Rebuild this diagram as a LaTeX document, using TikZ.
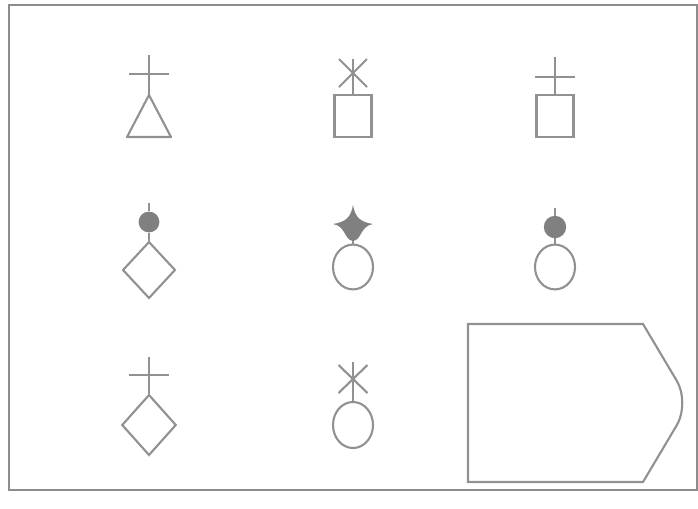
\documentclass[tikz,border=0pt]{standalone}
\usepackage{xcolor}
\usepackage{tikz}
\usetikzlibrary{shapes.geometric,calc}
\definecolor{symgray}{RGB}{145,145,145}
\definecolor{dotgray}{RGB}{128,128,128}
\definecolor{framegray}{RGB}{140,140,140}

\begin{document}
\begin{tikzpicture}[x=0.025cm, y=-0.025cm,
  sym/.style={draw=symgray, line width=1.5pt},
  link/.style={symgray, line width=1.5pt},
  box/.style={sym, rectangle, inner sep=0pt, minimum width=0.925cm, minimum height=1.05cm},
  ring/.style={sym, ellipse, inner sep=0pt, minimum width=1cm, minimum height=1.12cm},
  rhomb/.style={sym, diamond, inner sep=0pt, minimum width=1.32cm, minimum height=1.42cm},
  blob/.style={circle, fill=dotgray, inner sep=0pt, minimum size=0.52cm}]
\useasboundingbox (0,0) rectangle (698,508);
% --- frame ---
\draw[framegray, line width=1.4pt] (9,5) rectangle (697,490);

% --- row 1 ---
% cross + triangle
\coordinate (triTop) at (149,95);
\coordinate (crossA) at (149,55);
\draw[link, line join=round] (triTop) -- (127,137) -- (171,137) -- cycle;
\draw[link] (crossA) -- (triTop);
\draw[link] (129,74) -- (169,74);
% asterisk + box
\node[box] (boxB) at (353,116) {};
\coordinate (starB) at (353,73);
\draw[link] (353,59) -- (boxB.north);
\draw[link] ($(starB)+(-14,-14)$) -- ($(starB)+(14,14)$);
\draw[link] ($(starB)+(14,-14)$) -- ($(starB)+(-14,14)$);
% cross + box
\node[box] (boxC) at (555,116) {};
\coordinate (crossC) at (555,57);
\draw[link] (crossC) -- (boxC.north);
\draw[link] (535,77) -- (575,77);

% --- row 2 ---
% dot + diamond
\node[rhomb] (rhombD) at (149,270) {};
\node[blob] (blobD) at (149,222) {};
\draw[link, line width=1pt] (149,203) -- (blobD.north);
\draw[link] (blobD.south) -- (rhombD.north);
% four point star + ring
\node[ring] (ringE) at (353,267) {};
\coordinate (sparkE) at (353,224);
\draw[link] (sparkE) -- (ringE.north);
\fill[dotgray] (353,205) .. controls (355,217) and (360,222) .. (373,224)
  .. controls (360,226) and (362,240) .. (353,241)
  .. controls (344,240) and (346,226) .. (333,224)
  .. controls (346,222) and (351,217) .. (353,205);
% dot + ring
\node[ring] (ringF) at (555,267) {};
\node[blob, minimum size=0.56cm] (blobF) at (555,227) {};
\draw[link, line width=1pt] (555,208) -- (blobF.north);
\draw[link] (blobF.south) -- (ringF.north);

% --- row 3 ---
% cross + diamond
\node[rhomb, minimum width=1.36cm, minimum height=1.52cm] (rhombG) at (149,425) {};
\coordinate (crossG) at (149,357);
\draw[link] (crossG) -- (rhombG.north);
\draw[link] (129,375) -- (169,375);
% asterisk + ring
\node[ring, minimum height=1.15cm] (ringH) at (353,425) {};
\coordinate (starH) at (353,379);
\draw[link] (353,362) -- (ringH.north);
\draw[link] ($(starH)+(-14.5,-14)$) -- ($(starH)+(14.5,14)$);
\draw[link] ($(starH)+(14.5,-14)$) -- ($(starH)+(-14.5,14)$);
% large tag outline
\draw[link] (468,324) -- (643,324) [rounded corners=0.65cm] -- (690,403)
  [sharp corners] -- (643,482) -- (468,482) -- cycle;
\end{tikzpicture}
\end{document}
